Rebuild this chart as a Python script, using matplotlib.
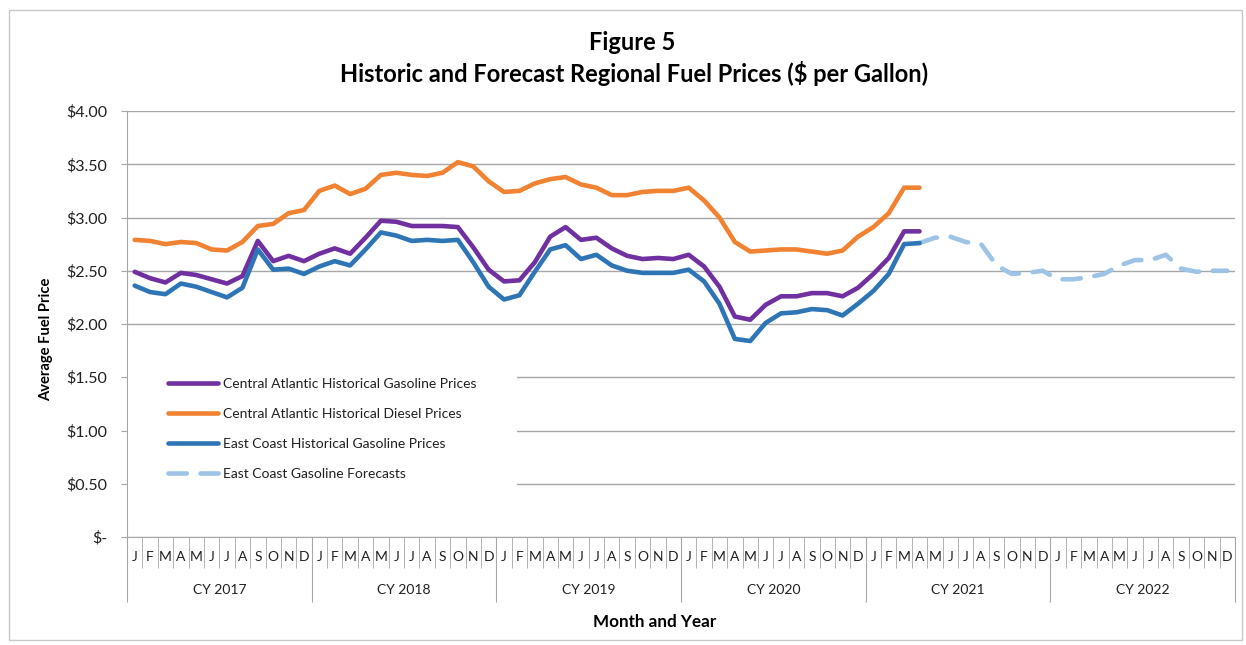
import numpy as np
import matplotlib
matplotlib.use("Agg")
from matplotlib import pyplot as plt
from matplotlib import transforms
from matplotlib.patches import Rectangle

plt.rcParams['font.family'] = ['Lato', 'DejaVu Sans']

month_letters = ["J", "F", "M", "A", "M", "J", "J", "A", "S", "O", "N", "D"]
years = ["CY 2017", "CY 2018", "CY 2019", "CY 2020", "CY 2021", "CY 2022"]

# Jan 2017 .. Apr 2021
ca_gas = [2.49, 2.43, 2.39, 2.48, 2.46, 2.42, 2.38, 2.45, 2.78, 2.59, 2.64, 2.59,
          2.66, 2.71, 2.66, 2.81, 2.97, 2.96, 2.92, 2.92, 2.92, 2.91, 2.72, 2.51,
          2.40, 2.41, 2.58, 2.82, 2.91, 2.79, 2.81, 2.71, 2.64, 2.61, 2.62, 2.61,
          2.65, 2.54, 2.35, 2.07, 2.04, 2.18, 2.26, 2.26, 2.29, 2.29, 2.26, 2.34,
          2.47, 2.62, 2.87, 2.87]
ca_diesel = [2.79, 2.78, 2.75, 2.77, 2.76, 2.70, 2.69, 2.77, 2.92, 2.94, 3.04, 3.07,
             3.25, 3.30, 3.22, 3.27, 3.40, 3.42, 3.40, 3.39, 3.42, 3.52, 3.48, 3.34,
             3.24, 3.25, 3.32, 3.36, 3.38, 3.31, 3.28, 3.21, 3.21, 3.24, 3.25, 3.25,
             3.28, 3.16, 3.00, 2.77, 2.68, 2.69, 2.70, 2.70, 2.68, 2.66, 2.69, 2.82,
             2.91, 3.04, 3.28, 3.28]
ec_gas = [2.36, 2.30, 2.28, 2.38, 2.35, 2.30, 2.25, 2.34, 2.70, 2.51, 2.52, 2.47,
          2.54, 2.59, 2.55, 2.70, 2.86, 2.83, 2.78, 2.79, 2.78, 2.79, 2.58, 2.35,
          2.23, 2.27, 2.49, 2.70, 2.74, 2.61, 2.65, 2.55, 2.50, 2.48, 2.48, 2.48,
          2.51, 2.40, 2.19, 1.86, 1.84, 2.01, 2.10, 2.11, 2.14, 2.13, 2.08, 2.19,
          2.31, 2.47, 2.75, 2.76]
# Apr 2021 .. Dec 2022
ec_forecast = [2.76, 2.81, 2.82, 2.77, 2.75, 2.55, 2.47, 2.48, 2.50, 2.42, 2.42,
               2.44, 2.47, 2.55, 2.60, 2.60, 2.65, 2.52, 2.49, 2.50, 2.50]

n_months = 12 * len(years)
x_hist = np.arange(len(ca_gas))
x_fc = np.arange(len(ca_gas) - 1, len(ca_gas) - 1 + len(ec_forecast))

W, H = 1246, 645
fig = plt.figure(figsize=(W / 100, H / 100), dpi=100)
ax = fig.add_axes([127 / W, 1 - 537 / H, (1235 - 127) / W, (537 - 111) / H])

grid_c = "#A6A6A6"
txt_c = "#1F1F1F"
ax.plot(x_hist, ca_gas, color="#7030A0", lw=3.3, label="Central Atlantic Historical Gasoline Prices",
        solid_capstyle="round", zorder=3)
ax.plot(x_hist, ca_diesel, color="#F08232", lw=3.3, label="Central Atlantic Historical Diesel Prices",
        solid_capstyle="round", zorder=3)
ax.plot(x_hist, ec_gas, color="#2E75B6", lw=3.3, label="East Coast Historical Gasoline Prices",
        solid_capstyle="round", zorder=3)
ax.plot(x_fc, ec_forecast, color="#9DC3E6", lw=3.3, label="East Coast Gasoline Forecasts",
        dashes=(4, 3), dash_capstyle="round", zorder=2)

ax.set_xlim(-0.5, n_months - 0.5)
ax.set_ylim(0, 4)
ax.set_yticks(np.arange(0, 4.01, 0.5))
ax.set_yticklabels(["$-"] + ["${:.2f}".format(v) for v in np.arange(0.5, 4.01, 0.5)],
                   fontsize=11.5, color=txt_c)
ax.yaxis.grid(True, color=grid_c, lw=1)
ax.set_axisbelow(True)
ax.tick_params(axis="y", length=4, color=grid_c, pad=10)

for s in ["top", "right"]:
    ax.spines[s].set_visible(False)
ax.spines["left"].set_color(grid_c)
ax.spines["bottom"].set_color(grid_c)

# category separators: long ticks at years, short at months
ax.set_xticks(np.arange(-0.5, n_months, 12))
ax.set_xticks([m + 0.5 for m in range(n_months - 1) if (m + 1) % 12 != 0], minor=True)
ax.tick_params(axis="x", which="major", length=47, color=grid_c, labelbottom=False)
ax.tick_params(axis="x", which="minor", length=22.5, color=grid_c)

trans = transforms.blended_transform_factory(ax.transData, ax.transAxes)
for m in range(n_months):
    ax.text(m, -20 / 426, month_letters[m % 12], transform=trans, ha="center", va="center",
            fontsize=10, color=txt_c)
for i, yr in enumerate(years):
    ax.text(12 * i + 5.5, -53 / 426, yr, transform=trans, ha="center", va="center",
            fontsize=10, color=txt_c)

leg = ax.legend(loc="center left", bbox_to_anchor=(0.001, 0.254), borderaxespad=0,
                fontsize=10, frameon=True, framealpha=1, edgecolor="none", facecolor="white",
                handlelength=3.6, handletextpad=0.36, labelspacing=1.3, borderpad=2.9)
for t in leg.get_texts():
    t.set_color(txt_c)

fig.text(632 / W, 1 - 42 / H, "Figure 5", ha="center", va="center", fontsize=17, fontweight="bold")
fig.text(634 / W, 1 - 73 / H, "Historic and Forecast Regional Fuel Prices ($ per Gallon)",
         ha="center", va="center", fontsize=17, fontweight="bold")
fig.text(655 / W, 1 - 622 / H, "Month and Year", ha="center", va="center", fontsize=12.3, fontweight="bold")
fig.text(46 / W, 1 - 339 / H, "Average Fuel Price", ha="center", va="center", rotation=90,
         fontsize=10.6, fontweight="bold")

fig.patches.append(Rectangle((9 / W, 1 - 640 / H), (1242 - 9) / W, (640 - 10) / H,
                             transform=fig.transFigure, fill=False, edgecolor="#C8C8C8", lw=1))

fig.savefig("out.png", dpi=100)
